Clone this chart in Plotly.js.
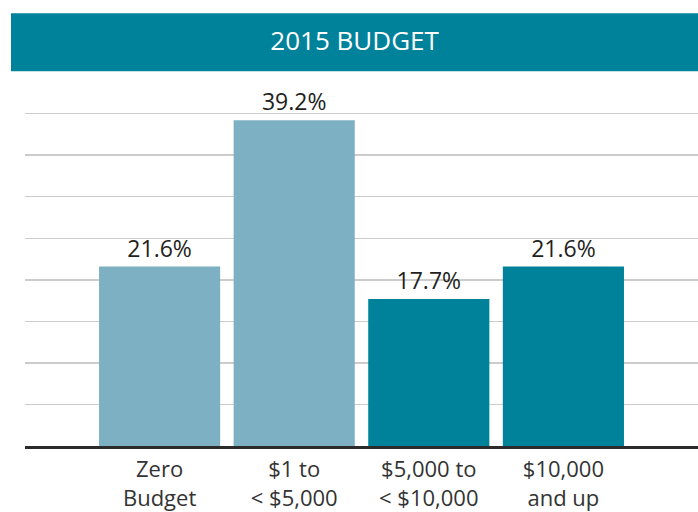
<!DOCTYPE html>
<html>
<head>
<meta charset="utf-8">
<script src="https://cdn.plot.ly/plotly-3.0.1.min.js"></script>
<style>
  html, body { margin: 0; padding: 0; background: #fff; }
  #chart { width: 698px; height: 512px; }
</style>
</head>
<body>
<div id="chart"></div>
<script>
// data
var categories = ['Zero<br>Budget', '$1 to<br>< $5,000', '$5,000 to<br>< $10,000', '$10,000<br>and up'];
var shares = [21.6, 39.2, 17.7, 21.6];
var barColors = ['#7db0c2', '#7db0c2', '#00829b', '#00829b'];

var bars = {
    type: 'bar',
    x: categories,
    y: shares,
    text: shares.map(function(v) { return v.toFixed(1) + '%'; }),
    textposition: 'outside',
    cliponaxis: false,
    textfont: { family: 'Open Sans', size: 23, color: '#231f20' },
    marker: { color: barColors, line: { width: 0 } },
    hoverinfo: 'none'
};

var layout = {
    width: 698,
    height: 512,
    margin: { l: 25, r: 0, t: 97, b: 66 },
    paper_bgcolor: '#fff',
    plot_bgcolor: '#fff',
    showlegend: false,
    bargap: 0.1,
    font: { family: 'Open Sans', color: '#333' },
    title: {
        text: '2015 BUDGET',
        font: { family: 'Open Sans', size: 26, color: '#fff' },
        xref: 'container', x: 0.508, xanchor: 'center',
        yref: 'container', y: 0.92, yanchor: 'middle'
    },
    xaxis: {
        type: 'category',
        range: [-1, 4],
        showgrid: false,
        showline: true,
        linecolor: '#2b2b2b',
        linewidth: 3,
        ticks: '',
        ticklabelstandoff: 2,
        tickfont: { family: 'Open Sans', size: 22, color: '#333' }
    },
    yaxis: {
        range: [0, 42],
        dtick: 5,
        showticklabels: false,
        zeroline: false,
        gridcolor: '#cccccc',
        gridwidth: 1.5
    },
    shapes: [{
        type: 'rect',
        xref: 'paper', yref: 'paper',
        x0: -0.0208, x1: 1,
        y0: 1.074, y1: 1.24,
        fillcolor: '#00829b',
        line: { width: 0 },
        layer: 'below'
    }]
};

Plotly.newPlot('chart', [bars], layout, { displayModeBar: false, staticPlot: true });
</script>
</body>
</html>
